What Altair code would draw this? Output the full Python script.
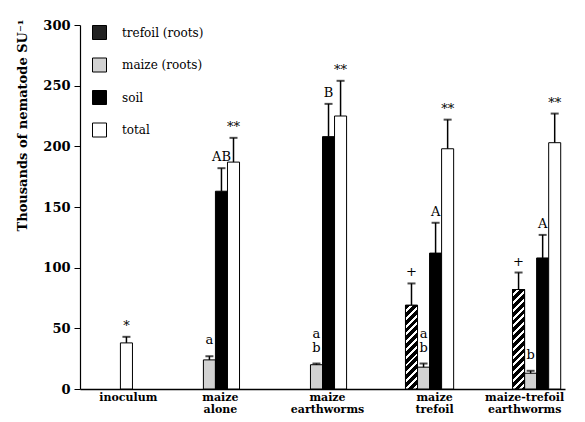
import altair as alt
import pandas as pd

groups = ["inoculum", "maize alone", "maize earthworms", "maize trefoil", "maize-trefoil earthworms"]
fractions = ["trefoil (roots)", "maize (roots)", "soil", "total"]

trefoil_vals = [None, None, None, 69, 82]
trefoil_err = [None, None, None, 18, 14]
maize_vals = [None, 24, 20, 18, 13]
maize_err = [None, 3, 1, 3, 2]
soil_vals = [None, 163, 208, 112, 108]
soil_err = [None, 19, 27, 25, 19]
total_vals = [38, 187, 225, 198, 203]
total_err = [5, 20, 29, 24, 24]

trefoil_lab = ["", "", "", "+", "+"]
maize_lab = ["", "a", "a\nb", "a\nb", "b"]
soil_lab = ["", "AB", "B", "A", "A"]
total_lab = ["*", "**", "**", "**", "**"]

series = [
    (fractions[0], trefoil_vals, trefoil_err, trefoil_lab),
    (fractions[1], maize_vals, maize_err, maize_lab),
    (fractions[2], soil_vals, soil_err, soil_lab),
    (fractions[3], total_vals, total_err, total_lab),
]
rows = []
for name, vals, errs, labs in series:
    for g, v, e, l in zip(groups, vals, errs, labs):
        if v is None:
            continue
        rows.append({"group": g, "fraction": name, "value": v, "top": v + e, "label": l})
df = pd.DataFrame(rows)

W, H = 485, 364
PI, PO = 0.55, 0.04
step = W / (len(groups) - PI + 2 * PO)
bar_w = step * (1 - PI) / len(fractions)

def stripes(value, period=5.5, duty=0.62):
    h = value * H / 300.0
    w = bar_w
    L = w + h
    s = L / (w * w + h * h)
    n = L / (2 ** 0.5 * period)
    stops = []
    k = 0
    while k / n < 1:
        t0 = k / n
        t1 = min((k + duty) / n, 1.0)
        t2 = min((k + 1) / n, 1.0)
        stops += [
            alt.GradientStop(offset=t0, color="black"),
            alt.GradientStop(offset=t1, color="black"),
            alt.GradientStop(offset=t1, color="white"),
            alt.GradientStop(offset=t2, color="white"),
        ]
        k += 1
    return alt.LinearGradient(gradient="linear", stops=stops, x1=0, y1=0, x2=s * w, y2=s * h)

x_enc = alt.X("group:N", sort=groups,
              scale=alt.Scale(domain=groups, paddingInner=PI, paddingOuter=PO),
              axis=alt.Axis(title=None, labelAngle=0, ticks=False, domainColor="black", domainWidth=1.5,
                            labelFont="DejaVu Serif", labelFontWeight="bold", labelFontSize=11,
                            labelColor="black", labelPadding=2, labelLineHeight=12,
                            labelOffset={"condition": [
                                {"test": "datum.value === 'inoculum'", "value": 20},
                                {"test": "datum.value === 'maize-trefoil earthworms'", "value": -12}],
                                "value": 5},
                            labelExpr="split(datum.label, ' ')"))
xo_enc = alt.XOffset("fraction:N", sort=fractions,
                     scale=alt.Scale(domain=fractions, paddingInner=0, paddingOuter=0))
y_enc = alt.Y("value:Q", scale=alt.Scale(domain=[0, 300]),
              axis=alt.Axis(values=[0, 50, 100, 150, 200, 250, 300], grid=False, tickSize=6,
                            tickColor="black", domainColor="black", domainWidth=1.2,
                            labelFont="DejaVu Serif", labelFontWeight="bold", labelFontSize=13,
                            labelColor="black", labelPadding=4,
                            title="Thousands of nematode SU⁻¹", titleFont="DejaVu Serif",
                            titleFontWeight="bold", titleFontSize=13, titleColor="black",
                            titleX=-58, titleY=100, titleAlign="center", titleBaseline="middle"))

bars = alt.Chart(df).mark_bar(stroke="black", strokeWidth=1, opacity=1).encode(
    x=x_enc, xOffset=xo_enc, y=y_enc,
    fill=alt.Fill("fraction:N", sort=fractions,
                  scale=alt.Scale(domain=fractions, range=["#222222", "#d2d2d2", "#000000", "#ffffff"]),
                  legend=alt.Legend(title=None, orient="none", legendX=12, legendY=0,
                                    symbolType="square", symbolSize=196, symbolStrokeColor="black",
                                    symbolStrokeWidth=1, symbolOpacity=1,
                                    labelFont="DejaVu Serif", labelFontSize=12, labelColor="black",
                                    labelOffset=15, rowPadding=13.5, padding=0)),
)

layers = [bars]
for g, v in zip(groups, trefoil_vals):
    if v is None:
        continue
    layers.append(
        alt.Chart(df).transform_filter(
            (alt.datum.group == g) & (alt.datum.fraction == fractions[0])
        ).mark_bar(stroke="black", strokeWidth=1, fill=stripes(v)).encode(
            x=x_enc, xOffset=xo_enc, y=y_enc)
    )

rules = alt.Chart(df).mark_rule(color="black", strokeWidth=1.5).encode(
    x=x_enc, xOffset=xo_enc, y=y_enc, y2="top:Q")
caps = alt.Chart(df).mark_tick(color="black", size=8, thickness=2, orient="horizontal").encode(
    x=x_enc, xOffset=xo_enc, y=alt.Y("top:Q"))

lab_base = alt.Chart(df).transform_filter(alt.datum.label != "").transform_calculate(
    parts="split(datum.label, '\\n')"
).transform_calculate(
    last="datum.parts[length(datum.parts) - 1]",
    first="length(datum.parts) > 1 ? datum.parts[0] : ''",
    is_maize="datum.fraction === 'maize (roots)'",
)
txt_style = dict(baseline="bottom", font="DejaVu Serif", fontSize=13, color="black")
last_other = lab_base.transform_filter("!datum.is_maize").mark_text(dy=-4, **txt_style).encode(
    x=x_enc, xOffset=xo_enc, y=alt.Y("top:Q"), text="last:N")
last_maize = lab_base.transform_filter("datum.is_maize").mark_text(dy=-9, **txt_style).encode(
    x=x_enc, xOffset=xo_enc, y=alt.Y("top:Q"), text="last:N")
first_maize = lab_base.transform_filter("datum.first != ''").mark_text(dy=-23, **txt_style).encode(
    x=x_enc, xOffset=xo_enc, y=alt.Y("top:Q"), text="first:N")

layers += [rules, caps, last_other, last_maize, first_maize]

chart = alt.layer(*layers).properties(
    width=W, height=H, autosize=alt.AutoSizeParams(type="none"),
    padding={"left": 72, "top": 17, "right": 12, "bottom": 25},
).configure_view(stroke=None)

chart.save("out.html", embed_options={"renderer": "svg", "actions": False})
